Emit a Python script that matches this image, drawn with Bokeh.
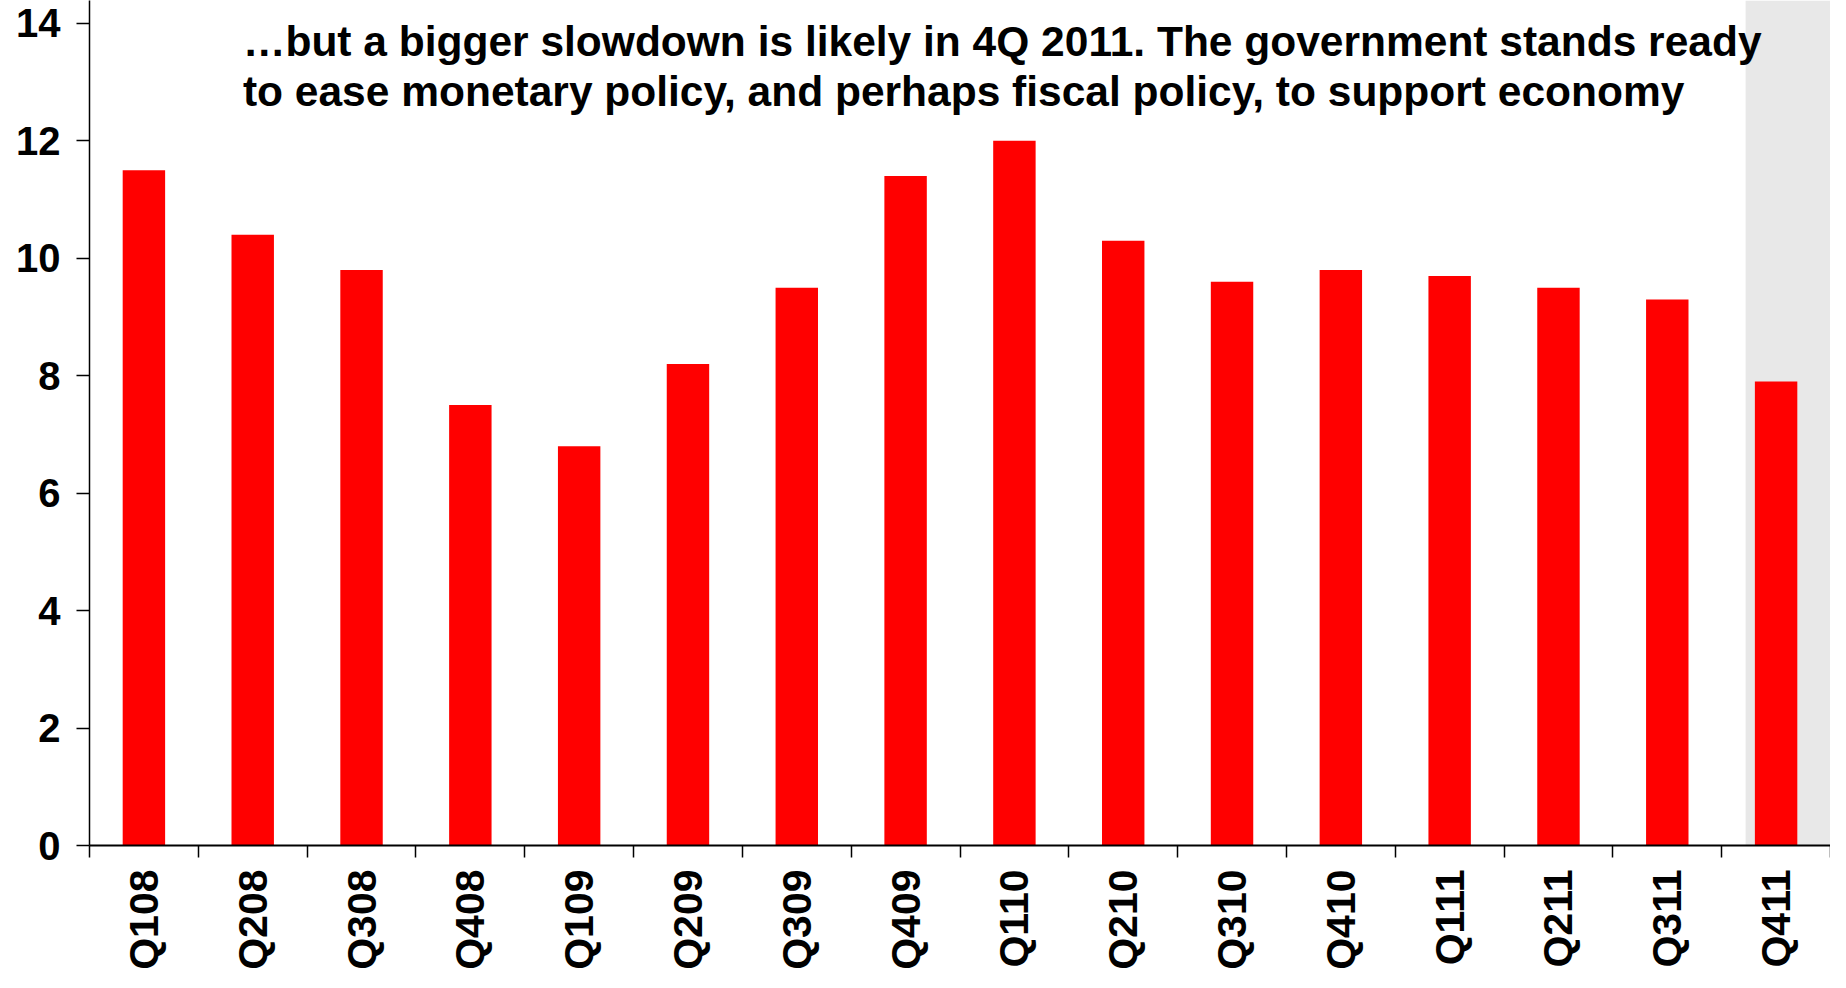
import math
from bokeh.plotting import figure
from bokeh.models import Range1d, FixedTicker, BoxAnnotation, Label
from bokeh.embed import file_html
from bokeh.resources import INLINE

quarters = ["Q108", "Q208", "Q308", "Q408", "Q109", "Q209", "Q309", "Q409",
            "Q110", "Q210", "Q310", "Q410", "Q111", "Q211", "Q311", "Q411"]
growth = [11.5, 10.4, 9.8, 7.5, 6.8, 8.2, 9.5, 11.4,
          12.0, 10.3, 9.6, 9.8, 9.7, 9.5, 9.3, 7.9]
y_ticks = [0, 2, 4, 6, 8, 10, 12, 14]
title_lines = [
    "\u2026but a bigger slowdown is likely in 4Q 2011. The government stands ready",
    "to ease monetary policy, and perhaps fiscal policy, to support economy",
]

FONT = "Liberation Sans"
n = len(quarters)
centers = [i + 0.5 for i in range(n)]
bounds = list(range(n + 1))

p = figure(width=1830, height=972, x_range=Range1d(0, n), y_range=Range1d(0, 14.39),
           output_backend="svg", toolbar_location=None,
           min_border_left=89, min_border_right=0, min_border_top=0, min_border_bottom=125)
p.outline_line_color = None
p.xgrid.grid_line_color = None
p.ygrid.grid_line_color = None
p.background_fill_color = "white"
p.border_fill_color = "white"

# forecast shading
p.add_layout(BoxAnnotation(left=15.22, fill_color="#E8E8E8", fill_alpha=1.0, line_color=None, level="underlay"))

p.vbar(x=centers, top=growth, width=0.39, fill_color="#FF0000", line_color=None)

# y axis
ya = p.yaxis[0]
ya.ticker = FixedTicker(ticks=y_ticks, minor_ticks=[])
ya.axis_line_color = "black"
ya.axis_line_width = 1.5
ya.major_tick_line_color = "black"
ya.major_tick_line_width = 1.5
ya.major_tick_in = 0
ya.major_tick_out = 13
ya.minor_tick_line_color = None
ya.major_label_standoff = 16
ya.major_label_text_font = FONT
ya.major_label_text_font_style = "bold"
ya.major_label_text_font_size = "40px"
ya.major_label_text_color = "black"

# x axis: labels at centres, ticks at boundaries
xa = p.xaxis[0]
xa.ticker = FixedTicker(ticks=centers, minor_ticks=bounds)
xa.major_label_overrides = {c: q for c, q in zip(centers, quarters)}
xa.axis_line_color = "black"
xa.axis_line_width = 2
xa.major_tick_line_color = None
xa.major_tick_in = 0
xa.major_tick_out = 0
xa.minor_tick_line_color = "black"
xa.minor_tick_line_width = 1.5
xa.minor_tick_in = 0
xa.minor_tick_out = 12
xa.major_label_orientation = math.pi / 2
xa.major_label_standoff = 12
xa.major_label_text_font = FONT
xa.major_label_text_font_style = "bold"
xa.major_label_text_font_size = "41px"
xa.major_label_text_color = "black"

for txt, yv in zip(title_lines, [13.69, 12.84]):
    p.add_layout(Label(x=1.41, y=yv, text=txt, text_font=FONT, text_font_style="bold",
                       text_font_size="42.5px", text_color="black", text_baseline="alphabetic",
                       text_align="left"))

open("out.html", "w").write(file_html(p, INLINE))
